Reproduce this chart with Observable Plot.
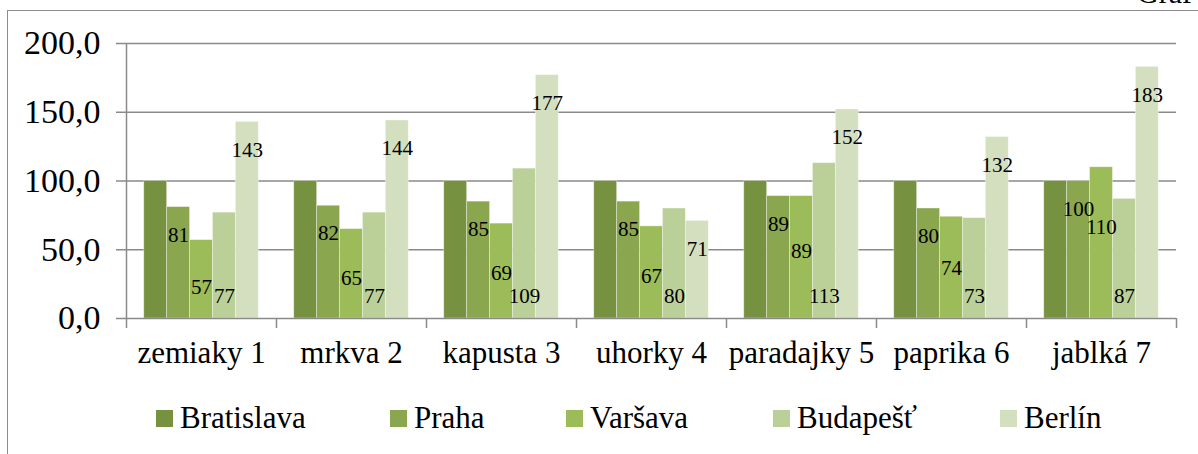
<!DOCTYPE html>
<html>
<head>
<meta charset="utf-8">
<script src="https://cdn.jsdelivr.net/npm/d3@7"></script>
<script src="https://cdn.jsdelivr.net/npm/@observablehq/plot@0.6"></script>
<style>
  html, body { margin: 0; padding: 0; background: #fff; }
  #wrap { position: relative; width: 1198px; height: 454px; overflow: hidden; font-family: "Liberation Serif", "Times New Roman", serif; }
  #frame { position: absolute; left: 7px; top: 10px; right: -10px; bottom: -10px; border-left: 1.5px solid #8c8c8c; border-top: 1.5px solid #8c8c8c; }
  #graf { position: absolute; right: 6px; top: -22px; font-size: 30px; line-height: 30px; color: #000; }
  #chart { position: absolute; left: 0; top: 0; }
  #legend { position: absolute; left: 156px; top: 400px; display: flex; align-items: center; font-size: 31px; line-height: 36px; color: #000; }
  .item { display: flex; align-items: center; }
  .sw { width: 17px; height: 17px; margin-right: 7px; flex: none; }
</style>
</head>
<body>
<div id="wrap">
  <div id="graf">Graf</div>
  <div id="frame"></div>
  <div id="chart"></div>
  <div id="legend"></div>
</div>
<script>
const categories = ["zemiaky 1", "mrkva 2", "kapusta 3", "uhorky 4", "paradajky 5", "paprika 6", "jablká 7"];
const cities = ["Bratislava", "Praha", "Varšava", "Budapešť", "Berlín"];
const bratislava = [100, 100, 100, 100, 100, 100, 100];
const praha = [81, 82, 85, 85, 89, 80, 100];
const varsava = [57, 65, 69, 67, 89, 74, 110];
const budapest = [77, 77, 109, 80, 113, 73, 87];
const berlin = [143, 144, 177, 71, 152, 132, 183];
const colors = ["#76913f", "#8aa64f", "#9cbb59", "#bbd098", "#d3dfbf"];
const yTicks = [0, 50, 100, 150, 200];

const seriesValues = [bratislava, praha, varsava, budapest, berlin];
const series = cities.map((city, i) => ({
  city, color: colors[i],
  rows: categories.map((c, j) => ({category: c, value: seriesValues[i][j], city}))
}));

const bandW = 150, barW = 22.9;
const inset = (bandW - barW) / 2;
const font = "Liberation Serif, Times New Roman, serif";
const grey = "#8a8a8a";

const marks = [
  Plot.gridY(yTicks.slice(1), {stroke: grey, strokeOpacity: 1, strokeWidth: 1.5}),
];
series.forEach((s, i) => {
  marks.push(Plot.barY(s.rows, {
    x: "category", y: "value", fill: s.color,
    dx: (i - 2) * barW, insetLeft: inset, insetRight: inset,
    stroke: "#ffffff", strokeOpacity: 0.45, strokeWidth: 0.8
  }));
});
marks.push(Plot.ruleY([0], {stroke: grey, strokeWidth: 1.5}));
marks.push(Plot.ruleX([categories[0]], {x: d => d, dx: -bandW / 2, stroke: grey, strokeWidth: 1.5}));
// data labels
const labelStyle = {fontSize: 21, fontFamily: font, fill: "#000", text: d => String(d.value)};
marks.push(Plot.text(series[1].rows, {...labelStyle, x: "category", y: "value", dx: -1 * barW, dy: 28}));
marks.push(Plot.text(series[2].rows, {...labelStyle, x: "category", y: d => d.value * 0.82 - 24, dx: 0}));
marks.push(Plot.text(series[3].rows, {...labelStyle, x: "category", y: 0, dx: 1 * barW, dy: -22}));
marks.push(Plot.text(series[4].rows, {...labelStyle, x: "category", y: "value", dx: 2 * barW, dy: 28}));
// axes
marks.push(Plot.axisY(yTicks, {tickSize: 10, tickPadding: 16, fontSize: 34, fontFamily: font, stroke: grey, strokeWidth: 1.5,
  tickFormat: d => d.toFixed(1).replace(".", ","), label: null}));
marks.push(Plot.axisX({tickSize: 0, tickPadding: 22, fontSize: 31, fontFamily: font, label: null}));
marks.push(Plot.axisX({tickSize: 10, dx: -bandW / 2, tickFormat: () => "", stroke: grey, strokeWidth: 1.5, label: null}));
marks.push(Plot.axisX([categories[categories.length - 1]], {tickSize: 10, dx: bandW / 2, tickFormat: () => "", stroke: grey, strokeWidth: 1.5, label: null}));

const chart = Plot.plot({
  width: 1198,
  height: 390,
  marginLeft: 126,
  marginRight: 22,
  marginTop: 43,
  marginBottom: 72,
  style: {background: "transparent", color: "#000", fontFamily: font, overflow: "visible"},
  x: {type: "band", domain: categories, padding: 0, axis: null},
  y: {domain: [0, 200], axis: null},
  marks
});
document.getElementById("chart").appendChild(chart);

const legendItemWidths = ["234px", "176px", "207px", "227px", "auto"];
const legend = document.getElementById("legend");
cities.forEach((c, i) => {
  const it = document.createElement("div");
  it.className = "item";
  it.style.width = legendItemWidths[i];
  const sw = document.createElement("div");
  sw.className = "sw";
  sw.style.background = colors[i];
  const t = document.createElement("span");
  t.textContent = c;
  it.appendChild(sw); it.appendChild(t);
  legend.appendChild(it);
});
</script>
</body>
</html>
